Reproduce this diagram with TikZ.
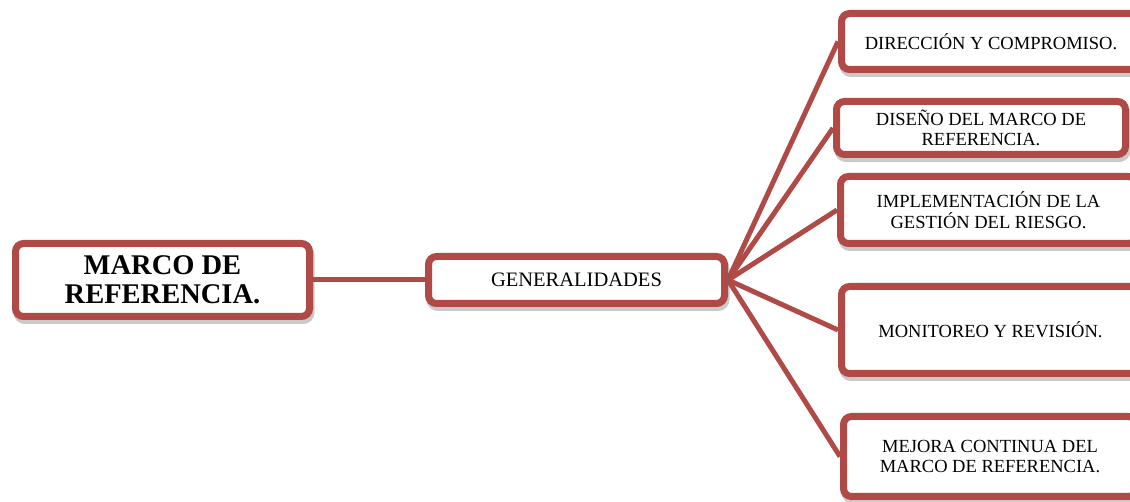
\documentclass[tikz,border=0pt]{standalone}
\usepackage{fontspec}
\setmainfont{Liberation Serif}
\usetikzlibrary{shadows,backgrounds}
\definecolor{boxred}{RGB}{176,74,71}
\begin{document}
\begin{tikzpicture}[x=1pt,y=1pt,
  box/.style={draw=boxred, line width=7pt, rounded corners=8pt, fill=white,
    align=center, inner sep=0pt,
    drop shadow={shadow xshift=1.5pt, shadow yshift=-4pt, opacity=0.35,
      fill=none, draw=black!60, line width=7pt}},
  leaf/.style={box, font=\fontsize{18.5}{20.5}\selectfont},
  rootbox/.style={box, font=\fontsize{28.5}{28.5}\selectfont\bfseries},
  link/.style={draw=boxred, line width=5pt}]
\useasboundingbox (0,0) rectangle (1130,502);
\clip (0,0) rectangle (1130,502);

% central topic and its first branch
\node[rootbox, minimum width=294pt, minimum height=73pt] (root) at (162.5,222) {MARCO DE\\REFERENCIA.};
\node[leaf, font=\fontsize{20.5}{22}\selectfont, minimum width=296pt, minimum height=47pt] (gen) at (576.5,222) {GENERALIDADES};

% sub-topics
\node[leaf, minimum width=299pt, minimum height=56pt] (b1) at (991,460.5) {DIRECCIÓN Y COMPROMISO.};
\node[leaf, minimum width=289pt, minimum height=53pt] (b2) at (981,374) {DISEÑO DEL MARCO DE\\REFERENCIA.};
\node[leaf, minimum width=296pt, minimum height=67pt] (b3) at (988.5,292) {IMPLEMENTACIÓN DE LA\\GESTIÓN DEL RIESGO.};
\node[leaf, minimum width=298pt, minimum height=87pt] (b4) at (990.5,172) {MONITOREO Y REVISIÓN.};
\node[leaf, minimum width=293pt, minimum height=80pt] (b5) at (990,45.5) {MEJORA CONTINUA DEL\\MARCO DE REFERENCIA.};

% connectors sit behind the boxes
\begin{scope}[on background layer]
  \draw[link] (root.east) -- (gen.west);
  \foreach \b in {b1,b2,b3,b4,b5}
    \draw[link] (gen.east) -- (\b.west);
\end{scope}
\end{tikzpicture}
\end{document}
